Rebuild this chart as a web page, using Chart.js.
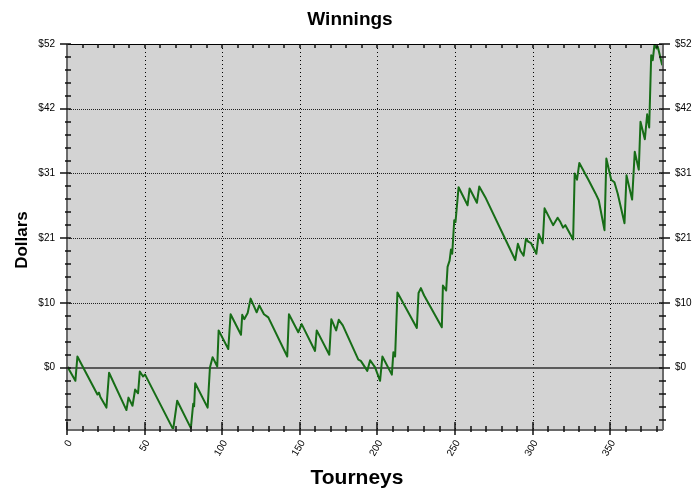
<!DOCTYPE html>
<html><head><meta charset="utf-8">
<script src="https://cdn.jsdelivr.net/npm/chart.js@4/dist/chart.umd.min.js"></script>
<style>html,body{margin:0;padding:0;background:#fff}#wrap{width:700px;height:497px}</style>
</head><body><div id="wrap"><canvas id="c" width="700" height="497"></canvas></div>
<script>
// ---- data ----
const tourneys = [0,5.4,6.7,19.6,20.6,21.5,25.4,27.1,38.3,39.6,42.2,43.9,45.8,46.9,49.0,50.3,68.4,71.0,79.8,81.3,81.9,82.6,90.6,92.1,93.8,96.8,97.7,103.9,105.4,112.1,112.9,114.2,116.4,118.3,122.2,123.9,126.9,129.7,141.9,143.0,149.0,151.2,159.8,160.9,169.0,170.3,173.4,175.1,177.7,187.7,189.3,193.5,195.3,198.5,201.7,203.2,209.3,210.3,211.4,212.9,225.4,226.5,228.0,230.1,241.5,242.2,244.3,245.2,246.5,247.4,248.2,249.5,250.3,252.3,258.1,259.4,264.1,265.6,269.5,288.8,290.5,292.1,294.2,295.7,297.4,299.0,302.4,303.9,306.5,307.7,313.2,316.1,317.9,319.6,321.1,326.1,327.1,328.6,330.1,336.1,340.5,342.6,346.3,347.5,350.6,352.7,354.8,359.2,360.5,364.1,365.8,368.4,369.5,372.3,373.8,375.1,376.4,377.4,378.5,379.8,380.6,383.5];
const dollars = [0.3,-2.1,1.8,-4.3,-4.0,-4.7,-6.4,-0.8,-6.8,-4.8,-6.1,-3.5,-4.1,-0.6,-1.4,-1.1,-9.9,-5.3,-9.7,-5.8,-6.2,-2.5,-6.4,0.05,1.7,0.2,6.0,3.0,8.6,5.3,8.5,7.8,8.8,11.1,8.9,10.0,8.6,8.1,1.8,8.6,5.7,7.0,2.7,6.0,2.1,7.8,6.0,7.7,6.8,1.3,1.1,-0.5,1.2,0.05,-2.1,1.8,-1.1,2.5,1.8,12.1,6.4,12.0,12.8,11.6,6.5,13.2,12.4,16.2,17.2,19.0,18.3,23.7,23.4,29.0,26.1,28.8,26.5,29.1,27.4,17.3,19.9,18.8,18.0,20.7,20.2,20.0,18.3,21.5,20.0,25.6,22.9,24.1,23.4,22.5,22.9,20.6,31.2,30.2,32.9,30.1,28.0,26.9,22.1,33.6,30.2,29.8,28.0,23.2,30.9,27.0,34.7,31.8,39.5,36.7,40.7,38.6,50.2,49.4,51.9,51.3,51.6,48.6];
const xTickValues = [0,50,100,150,200,250,300,350];
const xTickLabels = ['0','50','100','150','200','250','300','350'];
const yTickValues = [0,10.4,20.8,31.2,41.6,52];
const yTickLabels = ['$0','$10','$21','$31','$42','$52'];
const xMinorStep = 10;
const yMinorStep = 2.08;
const xRange = [0, 384];
const yRange = [-10, 52];
const chartTitle = 'Winnings';
const xTitle = 'Tourneys';
const yTitle = 'Dollars';

const FONT = "'Liberation Sans', Arial, sans-serif";

const framePlugin = {
  id: 'frame',
  beforeDraw(chart) {
    const {ctx, chartArea: a} = chart;
    ctx.save();
    ctx.fillStyle = '#fff';
    ctx.fillRect(0, 0, chart.width, chart.height);
    ctx.fillStyle = '#d3d3d3';
    ctx.fillRect(a.left, a.top, a.right - a.left, a.bottom - a.top);
    ctx.restore();
  },
  beforeDatasetsDraw(chart) {
    const {ctx, chartArea: a, scales: {x, y}} = chart;
    ctx.save();
    ctx.lineWidth = 1;
    ctx.strokeStyle = '#000';
    ctx.setLineDash([1, 3]);
    xTickValues.forEach(v => {
      if (v <= xRange[0]) return;
      const px = Math.round(x.getPixelForValue(v)) + 0.5;
      ctx.beginPath(); ctx.moveTo(px, a.top); ctx.lineTo(px, a.bottom); ctx.stroke();
    });
    ctx.strokeStyle = '#222';
    ctx.setLineDash([1, 1]);
    yTickValues.forEach(v => {
      if (v === 0 || v >= yRange[1]) return;
      const py = Math.round(y.getPixelForValue(v)) + 0.5;
      ctx.beginPath(); ctx.moveTo(a.left, py); ctx.lineTo(a.right, py); ctx.stroke();
    });
    ctx.setLineDash([]);
    ctx.strokeStyle = '#5a5a5a';
    ctx.lineWidth = 2;
    const pz = Math.round(y.getPixelForValue(0));
    ctx.beginPath(); ctx.moveTo(a.left, pz); ctx.lineTo(a.right, pz); ctx.stroke();
    ctx.restore();
  },
  afterDatasetsDraw(chart) {
    const {ctx, chartArea: a, scales: {x, y}} = chart;
    ctx.save();
    ctx.setLineDash([]);
    ctx.strokeStyle = '#000'; ctx.lineWidth = 1;
    ctx.beginPath(); ctx.moveTo(a.left, a.top + 0.5); ctx.lineTo(a.right, a.top + 0.5); ctx.stroke();
    ctx.strokeStyle = '#6a6a6a'; ctx.lineWidth = 2;
    ctx.beginPath();
    ctx.moveTo(a.left, a.top); ctx.lineTo(a.left, a.bottom);
    ctx.moveTo(a.right, a.top); ctx.lineTo(a.right, a.bottom);
    ctx.moveTo(a.left, a.bottom); ctx.lineTo(a.right, a.bottom);
    ctx.stroke();
    ctx.strokeStyle = '#111'; ctx.lineWidth = 1.5;
    const line = (x1, y1, x2, y2) => { ctx.beginPath(); ctx.moveTo(x1, y1); ctx.lineTo(x2, y2); ctx.stroke(); };
    for (let k = 0; xRange[0] + k * xMinorStep <= xRange[1]; k++) {
      const v = xRange[0] + k * xMinorStep;
      const px = Math.round(x.getPixelForValue(v));
      const major = xTickValues.includes(v);
      if (major) line(px, a.bottom - 8, px, a.bottom + 5);
      else line(px, a.bottom - 4, px, a.bottom + 2);
      if (v > xRange[0]) line(px, a.top, px, a.top + 4);
    }
    for (let k = -10; k <= 30; k++) {
      const v = +(k * yMinorStep).toFixed(3);
      if (v < yRange[0] || v > yRange[1] + 1e-6) continue;
      const py = Math.round(y.getPixelForValue(v));
      const major = (k % 5 === 0);
      if (major) {
        line(a.left - 7, py, a.left + 4, py);
        line(a.right - 4, py, a.right + 7, py);
      } else {
        line(a.left - 2, py, a.left + 4, py);
        line(a.right - 4, py, a.right + 3, py);
      }
    }
    ctx.fillStyle = '#000';
    ctx.textAlign = 'center';
    ctx.textBaseline = 'middle';
    ctx.font = 'bold 21px ' + FONT;
    ctx.fillText(xTitle, 357, 478);
    ctx.font = 'bold 17px ' + FONT;
    ctx.translate(22, 240);
    ctx.rotate(-Math.PI / 2);
    ctx.fillText(yTitle, 0, 0);
    ctx.restore();
  }
};

const yAxis = (pos, width) => ({
  type: 'linear', position: pos, min: yRange[0], max: yRange[1],
  afterBuildTicks: s => { s.ticks = yTickValues.map(v => ({value: v})); },
  afterFit: s => { s.width = width; },
  ticks: {
    padding: 12, color: '#000', font: {family: FONT, size: 10},
    callback: (v, i) => yTickLabels[i]
  },
  grid: {display: false, drawTicks: false},
  border: {display: false}
});

new Chart(document.getElementById('c'), {
  type: 'scatter',
  data: {
    datasets: [{
      data: tourneys.map((t, i) => ({x: t, y: dollars[i]})),
      showLine: true,
      borderColor: '#176d17',
      borderWidth: 2,
      pointRadius: 0,
      pointHoverRadius: 0,
      tension: 0,
      borderJoinStyle: 'round'
    }]
  },
  options: {
    responsive: false,
    devicePixelRatio: 1,
    animation: false,
    layout: {padding: 0},
    plugins: {
      legend: {display: false},
      tooltip: {enabled: false},
      title: {
        display: true, text: chartTitle, color: '#000',
        font: {family: FONT, size: 19, weight: 'bold', lineHeight: 1.2},
        padding: {top: 8, bottom: 13.2}
      }
    },
    scales: {
      x: {
        type: 'linear', min: xRange[0], max: xRange[1],
        afterBuildTicks: s => { s.ticks = xTickValues.map(v => ({value: v})); },
        afterFit: s => { s.height = 67; },
        ticks: {
          autoSkip: false, minRotation: 60, maxRotation: 60, padding: 8, labelOffset: 3,
          color: '#000', font: {family: FONT, size: 10},
          callback: (v, i) => xTickLabels[i]
        },
        grid: {display: false, drawTicks: false},
        border: {display: false}
      },
      y: yAxis('left', 67),
      y2: yAxis('right', 37)
    }
  },
  plugins: [framePlugin]
});
</script>
</body></html>
